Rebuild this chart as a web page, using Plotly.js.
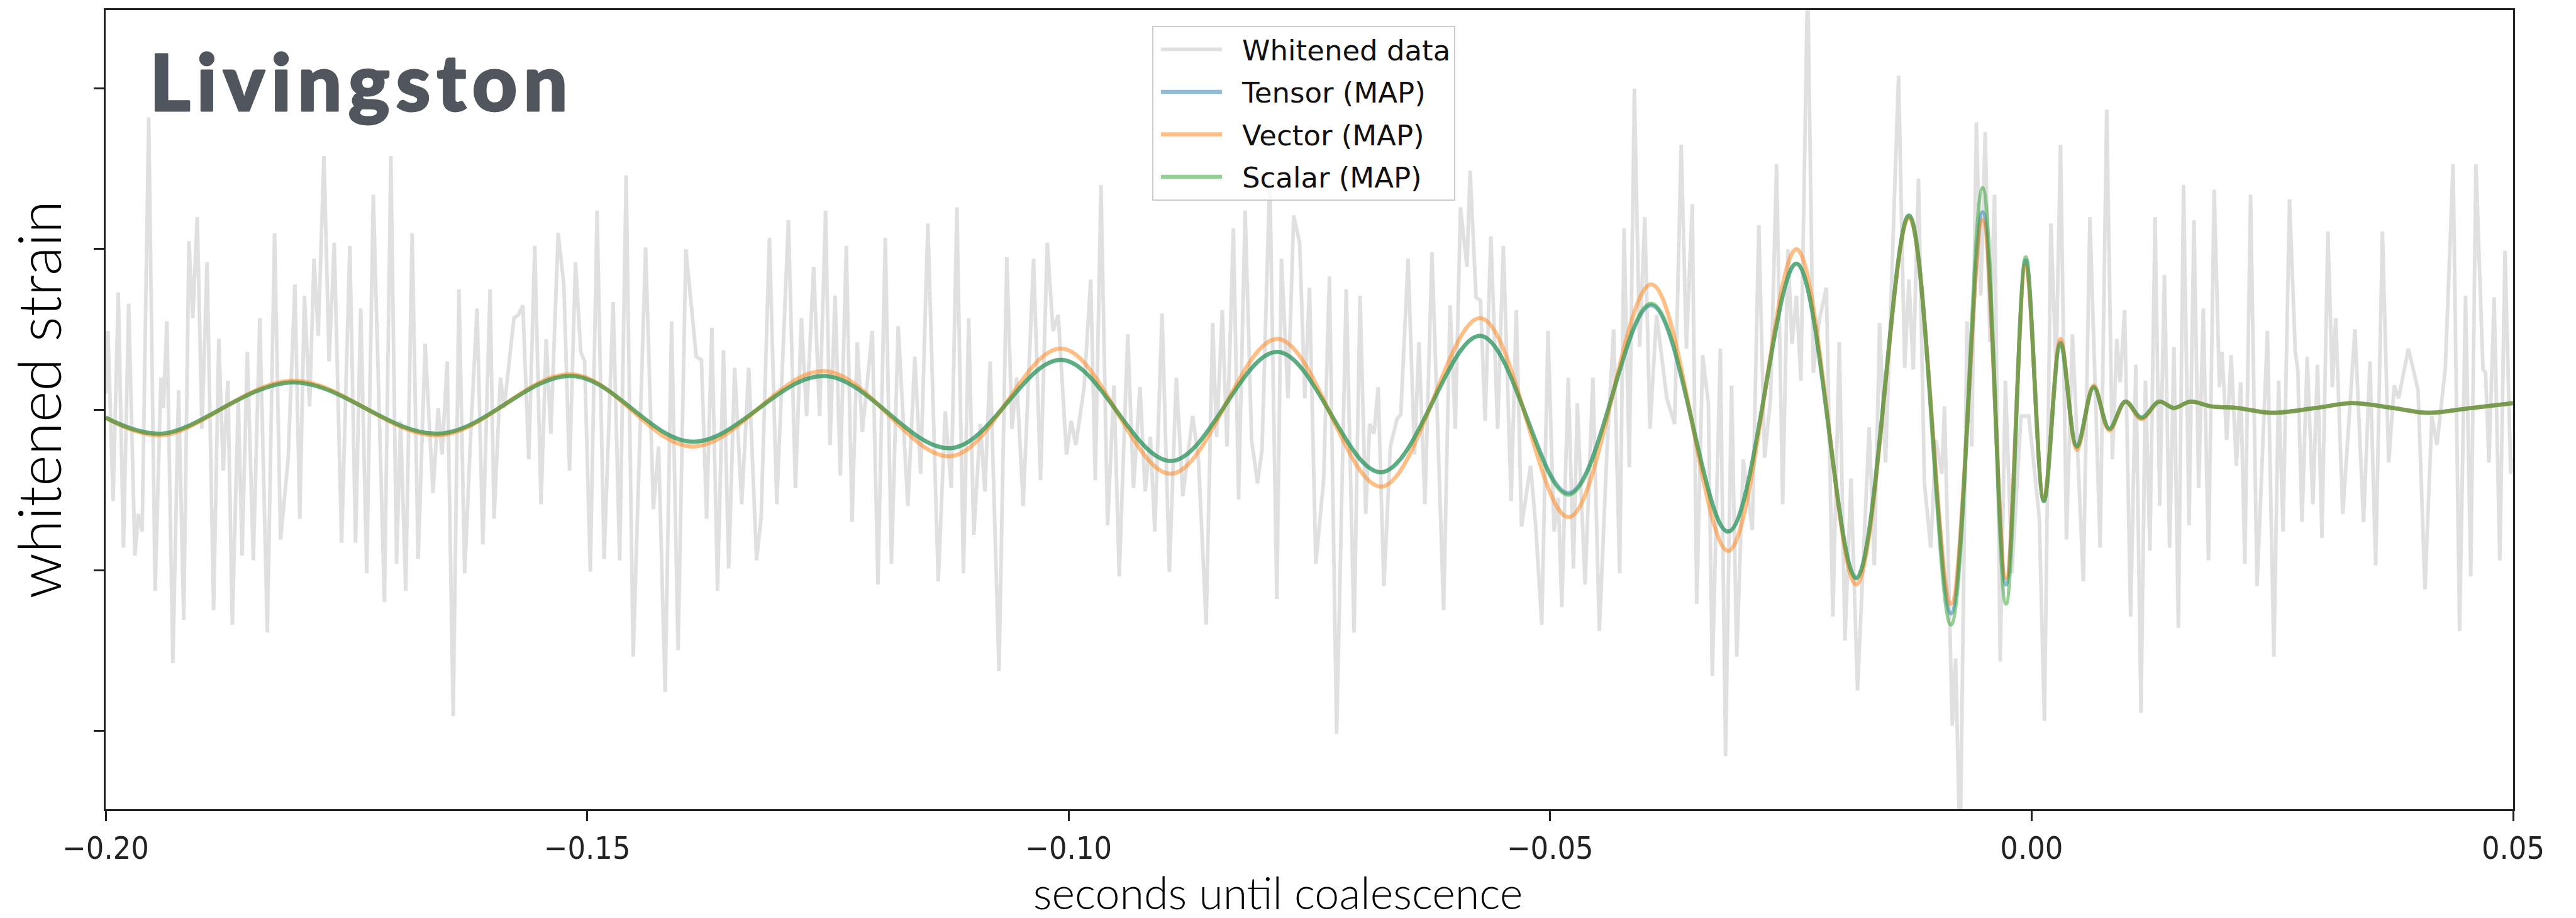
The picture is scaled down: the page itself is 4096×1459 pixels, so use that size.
<!DOCTYPE html>
<html>
<head>
<meta charset="utf-8">
<script src="https://cdn.plot.ly/plotly-3.0.1.min.js"></script>
<style>
html, body { margin:0; padding:0; background:#ffffff; }
#chart { width:4096px; height:1459px; }
.gtitle { letter-spacing: 10px; stroke:#51565e; stroke-width:3px; stroke-linejoin:round; }
.g-xtitle { transform: translateX(-50px); }
.g-ytitle { transform: translateY(-16px); }
</style>
</head>
<body>
<div id="chart"></div>
<script>
// ---- Whitened detector data (time in s, whitened strain in tick units) ----
const whitenedA = [[-0.2000,0.10],[-0.19976,0.49],[-0.19923,-0.57],[-0.19869,0.73],[-0.19815,-0.86],[-0.19761,0.66],[-0.19696,-0.91],[-0.19661,-0.65],[-0.19621,-0.76],[-0.19553,1.82],[-0.19486,-1.13],[-0.19426,0.20],[-0.19400,0.01],[-0.19364,0.55],[-0.19302,-1.58],[-0.19243,0.12],[-0.19189,-1.31],[-0.19135,1.05],[-0.19095,0.57],[-0.19049,1.20],[-0.19000,-0.12],[-0.18947,0.92],[-0.18879,-1.25],[-0.18825,0.44],[-0.18779,-0.38],[-0.18731,0.18],[-0.18685,-1.34],[-0.18623,0.07],[-0.18583,-0.91],[-0.18529,0.36],[-0.18467,-0.94],[-0.18399,0.57],[-0.18321,-1.39],[-0.18246,1.10],[-0.18184,-0.81],[-0.18105,-0.31],[-0.18035,0.78],[-0.17984,-0.68],[-0.17936,0.71],[-0.17882,0.02],[-0.17836,0.94],[-0.17793,0.46],[-0.17733,1.58],[-0.17680,0.30],[-0.17626,1.04],[-0.17550,-0.83],[-0.17464,1.02],[-0.17405,-0.83],[-0.17351,0.63],[-0.17289,-1.02],[-0.17221,1.34],[-0.17105,-1.20],[-0.17038,1.58],[-0.16979,-0.96],[-0.16938,-0.07],[-0.16884,-1.13],[-0.16817,1.10],[-0.16755,-0.93],[-0.16682,0.41],[-0.16601,-0.52],[-0.16547,0.01],[-0.16507,-0.28],[-0.16453,0.30],[-0.16391,-1.91],[-0.16331,0.75],[-0.16272,-1.02],[-0.16202,-0.06],[-0.16143,0.63],[-0.16083,-0.84],[-0.16008,0.75],[-0.15967,-0.68],[-0.15900,0.20]];
const whitenedB = [[-0.15862,0.01],[-0.15760,0.57],[-0.15714,0.59],[-0.15668,0.65],[-0.15606,-0.31],[-0.15544,1.02],[-0.15479,-0.59],[-0.15425,0.44],[-0.15377,-0.15],[-0.15301,1.10],[-0.15242,0.78],[-0.15183,-0.38],[-0.15121,0.92],[-0.15067,0.36],[-0.15026,0.30],[-0.14967,-1.01],[-0.14897,1.24],[-0.14824,-0.93],[-0.14730,0.67],[-0.14662,-0.94],[-0.14595,1.46],[-0.14522,-1.54],[-0.14393,1.01],[-0.14312,-0.62],[-0.14258,-0.23],[-0.14190,-1.76],[-0.14123,0.55],[-0.14056,-1.50],[-0.13975,1.00],[-0.13867,0.33],[-0.13813,0.31],[-0.13759,-0.68],[-0.13705,0.51],[-0.13646,-1.13],[-0.13584,0.37],[-0.13530,-0.99],[-0.13468,0.26],[-0.13395,-0.59],[-0.13322,0.26],[-0.13241,-0.94],[-0.13193,-0.67],[-0.13107,1.07],[-0.13031,-0.59],[-0.12910,1.18],[-0.12837,-0.49],[-0.12775,0.57],[-0.12721,-0.04],[-0.12648,0.89],[-0.12586,-0.04],[-0.12524,1.24],[-0.12478,-0.22],[-0.12425,0.71],[-0.12371,-0.41],[-0.12309,1.02],[-0.12249,-0.70],[-0.12195,0.42],[-0.12142,-0.14],[-0.12039,0.49],[-0.11980,-1.09],[-0.11904,1.07],[-0.11840,-0.96],[-0.11770,0.52],[-0.11670,-0.60]];
const whitenedC = [[-0.11597,0.33],[-0.11537,-0.40],[-0.11462,1.16],[-0.11354,-1.07],[-0.11281,-0.01],[-0.11219,-0.49],[-0.11160,1.26],[-0.11092,-1.02],[-0.11038,0.57],[-0.10985,-0.78],[-0.10917,-0.09],[-0.10869,-0.51],[-0.10815,0.30],[-0.10723,-1.63],[-0.10642,0.95],[-0.10588,-0.12],[-0.10540,0.20],[-0.10472,-0.60],[-0.10364,0.94],[-0.10292,-0.44],[-0.10222,1.04],[-0.10162,0.49],[-0.10108,0.59],[-0.10022,-0.28],[-0.09974,-0.07],[-0.09925,-0.22],[-0.09839,0.14],[-0.09771,0.81],[-0.09723,-0.44],[-0.09664,1.40],[-0.09596,-0.72],[-0.09529,0.15],[-0.09475,-1.04],[-0.09386,0.47],[-0.09327,-0.49],[-0.09259,0.14],[-0.09205,-0.51],[-0.09151,-0.17],[-0.09105,-0.76],[-0.09030,0.60],[-0.08954,-1.01],[-0.08882,0.20],[-0.08814,-0.54],[-0.08712,-0.04],[-0.08652,-0.31],[-0.08572,-1.34],[-0.08504,0.54],[-0.08464,-0.17],[-0.08404,0.62],[-0.08356,-0.23],[-0.08289,1.13],[-0.08235,-0.56],[-0.08167,1.24],[-0.08100,-0.19],[-0.08038,-0.46],[-0.07992,-0.25],[-0.07911,1.45],[-0.07838,-1.18],[-0.07790,0.94],[-0.07722,0.07],[-0.07663,1.21],[-0.07601,1.04],[-0.07547,0.07],[-0.07499,0.76]];
const whitenedD = [[-0.07433,-0.96],[-0.07352,-0.44],[-0.07292,0.83],[-0.07217,-2.02],[-0.07117,0.75],[-0.07036,-1.39],[-0.06974,0.71],[-0.06915,-0.65],[-0.06874,-0.09],[-0.06829,-0.15],[-0.06786,0.14],[-0.06726,-1.10],[-0.06659,-0.23],[-0.06591,-0.06],[-0.06551,-0.03],[-0.06475,0.94],[-0.06408,-0.28],[-0.06362,0.42],[-0.06300,-0.59],[-0.06227,0.98],[-0.06106,-1.25],[-0.06039,0.65],[-0.05985,-0.12],[-0.05931,1.26],[-0.05863,0.89],[-0.05831,1.49],[-0.05769,0.70],[-0.05723,0.68],[-0.05675,-0.07],[-0.05615,1.08],[-0.05545,-0.12],[-0.05486,1.02],[-0.05405,-0.57],[-0.05351,0.62],[-0.05297,-0.73],[-0.05203,-0.35],[-0.05149,-0.73],[-0.05087,-1.34],[-0.05022,0.49],[-0.04960,-0.76],[-0.04915,-0.55],[-0.04879,-1.23],[-0.04812,0.20],[-0.04758,-0.99],[-0.04718,0.04],[-0.04637,-1.09],[-0.04556,0.20],[-0.04489,-1.38],[-0.04408,-0.23],[-0.04340,0.50],[-0.04278,-1.02],[-0.04232,1.13],[-0.04178,-0.36],[-0.04125,2.00],[-0.04071,0.39],[-0.04017,1.20],[-0.03963,-0.12],[-0.03895,0.59],[-0.03788,0.07],[-0.03707,-0.09],[-0.03639,1.65],[-0.03585,0.38],[-0.03524,1.28],[-0.03478,-1.21],[-0.03416,0.34],[-0.03357,0.04],[-0.03316,-1.66]];
const whitenedE = [[-0.03232,0.38],[-0.03178,-2.16],[-0.03116,0.15],[-0.03062,-1.54],[-0.02995,-0.31],[-0.02900,-0.75],[-0.02833,1.15],[-0.02773,-0.30],[-0.02711,0.07],[-0.02649,1.53],[-0.02585,-0.59],[-0.02531,1.00],[-0.02488,0.41],[-0.02442,0.71],[-0.02396,0.18],[-0.02326,2.70],[-0.02267,0.23],[-0.02207,0.55],[-0.02132,0.76],[-0.02064,-1.29],[-0.01997,0.42],[-0.01938,-1.44],[-0.01876,-0.43],[-0.01808,-1.75],[-0.01687,-0.11],[-0.01633,-0.97],[-0.01579,0.54],[-0.01517,-0.33],[-0.01382,2.08],[-0.01318,0.26],[-0.01274,0.81],[-0.01229,0.25],[-0.01175,1.44],[-0.01113,-0.46],[-0.01048,-0.86],[-0.00994,-0.19],[-0.00932,-0.40],[-0.00905,0.02],[-0.00824,-1.97],[-0.00789,-1.55],[-0.00743,-2.80],[-0.00671,0.55],[-0.00622,-0.23],[-0.00574,1.79],[-0.00528,0.71],[-0.00482,1.73],[-0.00433,0.42],[-0.00385,1.34],[-0.00326,-1.57],[-0.00272,0.18],[-0.00204,-1.02],[-0.00110,-0.04],[-0.00029,-0.04],[0.00079,-0.67],[0.00133,-1.94],[0.00200,1.16],[0.00254,0.26],[0.00300,1.65],[0.00362,-0.81],[0.00424,0.47],[0.00537,-1.07],[0.00605,1.20],[0.00712,-0.86],[0.00780,1.87],[0.00839,-0.31]];
const whitenedF = [[0.00885,0.44],[0.00920,0.17],[0.00966,0.62],[0.01028,-1.29],[0.01082,0.28],[0.01136,-1.89],[0.01182,0.18],[0.01228,-0.88],[0.01282,1.20],[0.01330,-0.60],[0.01379,0.84],[0.01433,-0.86],[0.01478,0.39],[0.01524,-1.36],[0.01578,1.40],[0.01635,-0.72],[0.01686,1.18],[0.01735,-0.49],[0.01783,0.63],[0.01837,-0.94],[0.01896,1.37],[0.01950,0.14],[0.01977,0.36],[0.02026,-0.19],[0.02072,0.34],[0.02126,-0.35],[0.02171,0.17],[0.02214,-0.96],[0.02274,1.34],[0.02341,-1.10],[0.02449,0.49],[0.02516,-1.54],[0.02565,0.18],[0.02611,-0.76],[0.02678,1.31],[0.02738,0.36],[0.02764,0.25],[0.02808,-0.70],[0.02862,0.33],[0.02921,-0.59],[0.02969,0.28],[0.03015,-0.80],[0.03077,1.11],[0.03123,0.14],[0.03158,0.57],[0.03231,-0.65],[0.03358,0.50],[0.03447,-0.70],[0.03514,0.30],[0.03573,-0.97],[0.03643,1.11],[0.03708,-0.33],[0.03765,0.15],[0.03811,0.07],[0.03913,0.38],[0.04013,0.12],[0.04085,-1.12],[0.04156,-0.04],[0.04210,-0.22],[0.04296,0.26],[0.04377,1.53],[0.04444,-1.38],[0.04506,0.71],[0.04560,-1.04],[0.04614,1.53],[0.04687,0.25],[0.04714,0.23],[0.04749,-0.33],[0.04803,0.70],[0.04862,-0.94],[0.04916,0.99],[0.04975,-0.40],[0.05000,-0.30]];

// ---- MAP waveforms: turning points (time in s) ----
const waveTime = [-0.2000,-0.19418,-0.18057,-0.16547,-0.15156,-0.13902,-0.12538,-0.11219,-0.10073,-0.08936,-0.07830,-0.06753,-0.05723,-0.04807,-0.03949,-0.03151,-0.02442,-0.01822,-0.01274,-0.00838,-0.00509,-0.00266,-0.00061,0.00127,0.00300,0.00470,0.00645,0.00807,0.00974,0.01141,0.01325,0.01478,0.01648,0.01869,0.02139,0.02489,0.02948,0.03325,0.03757,0.04107,0.04565,0.0500];
const tensorStrain = [-0.05,-0.15,0.17,-0.15,0.21,-0.20,0.21,-0.24,0.31,-0.32,0.36,-0.39,0.46,-0.52,0.65,-0.76,0.91,-1.05,1.21,-1.27,1.23,-1.09,0.93,-0.57,0.42,-0.23,0.14,-0.12,0.05,-0.05,0.05,0.01,0.05,0.02,0.01,-0.02,0.01,0.04,0.01,-0.02,0.01,0.04];
const vectorStrain = [-0.05,-0.16,0.18,-0.16,0.22,-0.23,0.24,-0.29,0.38,-0.40,0.44,-0.48,0.57,-0.67,0.78,-0.88,1.00,-1.09,1.20,-1.21,1.18,-1.05,0.90,-0.56,0.44,-0.25,0.15,-0.13,0.05,-0.06,0.05,0.01,0.05,0.02,0.01,-0.02,0.01,0.04,0.01,-0.02,0.01,0.04];
const scalarStrain = [-0.05,-0.15,0.17,-0.15,0.21,-0.20,0.21,-0.24,0.31,-0.32,0.36,-0.39,0.46,-0.53,0.66,-0.76,0.91,-1.05,1.21,-1.34,1.38,-1.21,0.95,-0.57,0.41,-0.23,0.14,-0.12,0.05,-0.05,0.05,0.01,0.05,0.02,0.01,-0.02,0.01,0.04,0.01,-0.02,0.01,0.04];

const seriesNames = ['Whitened data','Tensor (MAP)','Vector (MAP)','Scalar (MAP)'];
const xTickVals = [-0.20,-0.15,-0.10,-0.05,0.00,0.05];
const yTickVals = [-2,-1,0,1,2];

const whitened = [].concat(whitenedA, whitenedB, whitenedC, whitenedD, whitenedE, whitenedF);

const traces = [
  {x: whitened.map(p => p[0]), y: whitened.map(p => p[1]), name: seriesNames[0], legendgroup:'g0',
   type:'scatter', mode:'lines', line:{color:'rgba(204,204,204,0.6)', width:5.8}},
  {x: waveTime, y: tensorStrain, name: seriesNames[1], legendgroup:'g1',
   type:'scatter', mode:'lines', line:{color:'rgba(31,119,180,0.5)', width:6.5, shape:'spline', smoothing:1}},
  {x: waveTime, y: vectorStrain, name: seriesNames[2], legendgroup:'g2',
   type:'scatter', mode:'lines', line:{color:'rgba(255,127,14,0.5)', width:6.5, shape:'spline', smoothing:1}},
  {x: waveTime, y: scalarStrain, name: seriesNames[3], legendgroup:'g3',
   type:'scatter', mode:'lines', line:{color:'rgba(44,160,44,0.5)', width:6.5, shape:'spline', smoothing:1}}
];

const layout = {
  width: 4096, height: 1459,
  margin: {l:168, r:100, t:16, b:173, pad:0},
  paper_bgcolor:'#ffffff', plot_bgcolor:'#ffffff',
  showlegend: true,
  title: {text:'Livingston', font:{family:'Lato', size:124, weight:900, color:'#51565e'},
          xref:'paper', yref:'paper', x:0.0183, xanchor:'left', y:0.9425, yanchor:'top',
          pad:{t:0,b:0,l:0,r:0}},
  xaxis: {range:[-0.2,0.05], tickvals:xTickVals, tickformat:'.2f', ticks:'outside', ticklen:16, tickwidth:3,
          tickcolor:'#222', showline:true, linecolor:'#222', linewidth:3, mirror:true, showgrid:false,
          zeroline:false, automargin:false,
          tickfont:{family:'DejaVu Sans Condensed, DejaVu Sans', size:50, color:'#222'},
          title:{text:'seconds until coalescence', font:{family:'Lato', weight:300, size:70, color:'#000'}, standoff:20}},
  yaxis: {range:[-2.49,2.49], tickvals:yTickVals, ticks:'outside', ticklen:16, tickwidth:3, tickcolor:'#222',
          showticklabels:false, showline:true, linecolor:'#222', linewidth:3, mirror:true, showgrid:false,
          zeroline:false, automargin:false,
          title:{text:'whitened strain', font:{family:'Lato', weight:300, size:95, color:'#000'}, standoff:20}},
  legend: {x:0.4347, y:0.9806, xanchor:'left', yanchor:'top', bgcolor:'rgba(255,255,255,0.8)',
           bordercolor:'#cccccc', borderwidth:2, font:{family:'DejaVu Sans', size:45, color:'#111'},
           itemwidth:131, tracegroupgap:6, traceorder:'grouped'}
};

Plotly.newPlot('chart', traces, layout, {staticPlot:true, displayModeBar:false}).then(function(gd){
  gd.querySelectorAll('.legend .legendlines path').forEach(function(p){ p.setAttribute('d','M12,0h97'); });
});
</script>
</body>
</html>
